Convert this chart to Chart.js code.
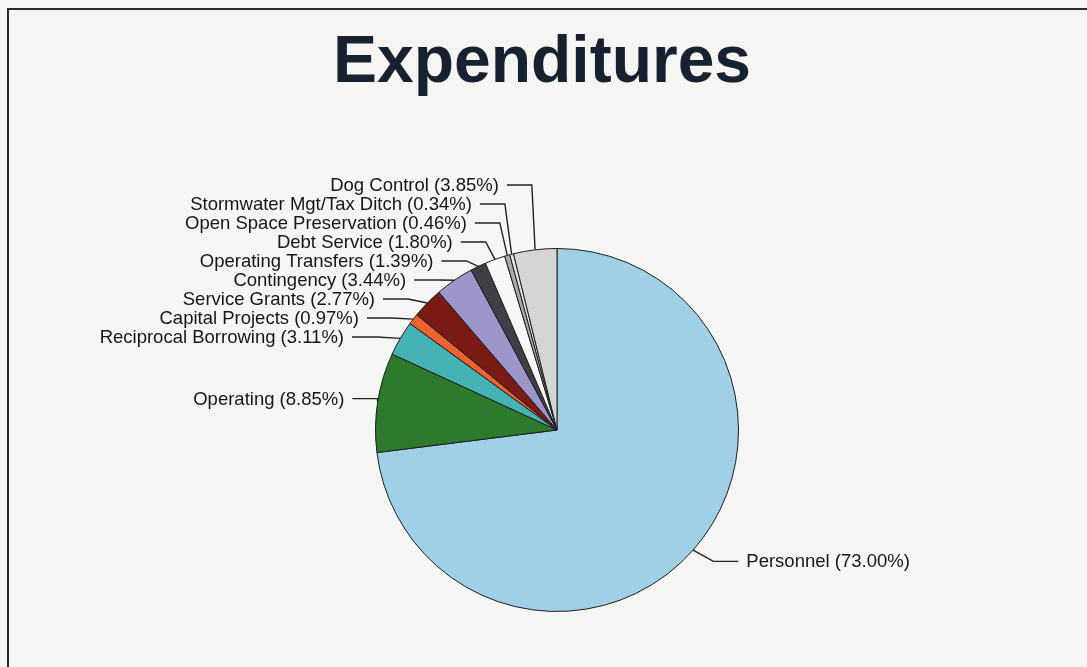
<!DOCTYPE html>
<html>
<head>
<meta charset="utf-8">
<title>Expenditures</title>
<script src="https://cdn.jsdelivr.net/npm/chart.js@4.4.1/dist/chart.umd.min.js"></script>
<style>
  html, body { margin: 0; padding: 0; background: #f5f5f3; }
  #chart { display: block; }
</style>
</head>
<body>
<canvas id="chart" width="1087" height="667"></canvas>
<script>
// Expenditures pie chart, labels drawn outside with leader lines

// ============================================================================
// Data
// ============================================================================

const chartTitle = 'Expenditures';

const categories = [
  'Personnel',
  'Operating',
  'Reciprocal Borrowing',
  'Capital Projects',
  'Service Grants',
  'Contingency',
  'Operating Transfers',
  'Debt Service',
  'Open Space Preservation',
  'Stormwater Mgt/Tax Ditch',
  'Dog Control'
];

const percentages = [73.00, 8.85, 3.11, 0.97, 2.77, 3.44, 1.39, 1.80, 0.46, 0.34, 3.85];

const sliceColors = [
  '#a0d0e5', // personnel - light blue
  '#2e7a2c', // operating - green
  '#45b3b5', // reciprocal borrowing - teal
  '#ee6230', // capital projects - orange
  '#7a1a14', // service grants - dark red
  '#9c96cb', // contingency - lavender
  '#3e4046', // operating transfers - dark grey
  '#f7f7f7', // debt service - white
  '#a9a9a9', // open space - grey
  '#e2e2e2', // stormwater - pale grey
  '#d5d5d5'  // dog control - light grey
];

// ============================================================================
// Look
// ============================================================================

const FONT = '"Liberation Sans", Arial, Helvetica, sans-serif';
const LABEL_OFFSET = 24;  // natural label ring beyond the pie edge
const LINE_GAP = 19;      // min vertical distance between labels
const SEG = 25;           // horizontal part of a leader line
const TEXT_GAP = 8;

// ============================================================================
// Plugins
// ============================================================================

const paperPlugin = {
  id: 'paper',
  beforeDraw(chart) {
    const ctx = chart.ctx;
    ctx.save();
    ctx.fillStyle = '#f5f5f3';
    ctx.fillRect(0, 0, chart.width, chart.height);

    // slide frame (only top and left edge show in the scan)
    ctx.strokeStyle = '#2b2b2b';
    ctx.lineWidth = 2;
    ctx.beginPath();
    ctx.moveTo(8, chart.height);
    ctx.lineTo(8, 9);
    ctx.lineTo(chart.width, 9);
    ctx.stroke();

    // title
    ctx.font = 'bold 66px ' + FONT;
    ctx.fillStyle = '#172130';
    ctx.textAlign = 'center';
    ctx.textBaseline = 'alphabetic';
    ctx.fillText(chartTitle, 542, 82);
    ctx.restore();
  }
};

function spreadLabels(items) {
  items.sort((a, b) => a.ly - b.ly);
  for (let iter = 0; iter < 600; iter++) {
    for (let j = 1; j < items.length; j++) {
      const gap = items[j].ly - items[j - 1].ly;
      if (gap < LINE_GAP) {
        const shift = (LINE_GAP - gap) / 2;
        items[j - 1].ly -= shift;
        items[j].ly += shift;
      }
    }
  }
}

const leaderLabelPlugin = {
  id: 'leaderLabels',
  afterDatasetsDraw(chart) {
    const ctx = chart.ctx;
    const meta = chart.getDatasetMeta(0);

    const items = meta.data.map((arc, i) => {
      const p = arc.getProps(['x', 'y', 'startAngle', 'endAngle', 'outerRadius'], true);
      const mid = (p.startAngle + p.endAngle) / 2;
      const cos = Math.cos(mid);
      const sin = Math.sin(mid);
      const side = cos < 0 ? -1 : 1;
      // right-hand labels sit a bit closer to the pie
      const ring = p.outerRadius + (side < 0 ? LABEL_OFFSET : LABEL_OFFSET - 7);
      return {
        text: `${categories[i]} (${percentages[i].toFixed(2)}%)`,
        side: side,
        ax: p.x + cos * p.outerRadius,
        ay: p.y + sin * p.outerRadius,
        ly: p.y + sin * ring,
        cos: cos,
        sin: sin
      };
    });

    spreadLabels(items.filter((it) => it.side < 0));
    spreadLabels(items.filter((it) => it.side > 0));

    ctx.save();
    ctx.font = '18.5px ' + FONT;
    ctx.textBaseline = 'middle';
    ctx.strokeStyle = '#222';
    ctx.lineWidth = 1.4;
    ctx.fillStyle = '#161616';

    items.forEach((it) => {
      // elbow sits a little outside the anchor, less so near 9/3 o'clock
      const flat = Math.min(1, Math.max(0, (Math.abs(it.sin) - 0.15) / 0.3));
      const elbowX = it.ax + it.side * 27 * Math.abs(it.cos) * flat;
      const endX = elbowX + it.side * SEG;

      ctx.beginPath();
      ctx.moveTo(it.ax, it.ay);
      ctx.lineTo(elbowX, it.ly);
      ctx.lineTo(endX, it.ly);
      ctx.stroke();

      ctx.textAlign = it.side < 0 ? 'right' : 'left';
      ctx.fillText(it.text, endX + it.side * TEXT_GAP, it.ly + 1);
    });
    ctx.restore();
  }
};

// ============================================================================
// Chart
// ============================================================================

const canvas = document.getElementById('chart');

new Chart(canvas, {
  type: 'pie',
  data: {
    labels: categories,
    datasets: [
      {
        data: percentages,
        backgroundColor: sliceColors,
        borderColor: '#1e1e1e',
        borderWidth: 1
      }
    ]
  },
  options: {
    responsive: false,
    animation: false,
    events: [],
    layout: {
      padding: { top: 248, bottom: 55, left: 200, right: 173 }
    },
    plugins: {
      legend: { display: false },
      tooltip: { enabled: false },
      title: { display: false }
    }
  },
  plugins: [paperPlugin, leaderLabelPlugin]
});
</script>
</body>
</html>
